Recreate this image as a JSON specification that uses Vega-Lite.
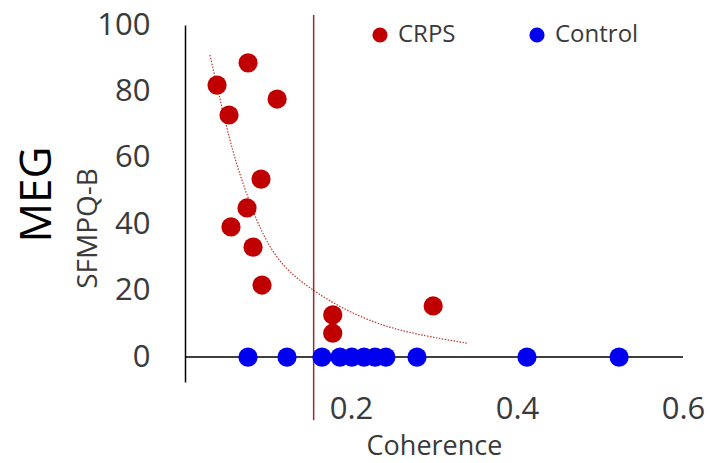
{
  "$schema": "https://vega.github.io/schema/vega-lite/v6.json",
  "width": 498,
  "height": 357,
  "autosize": "none",
  "padding": {"left": 185, "top": 25, "right": 27, "bottom": 81},
  "background": "white",
  "config": {
    "view": {"stroke": null},
    "font": "Open Sans",
    "axis": {"grid": false, "ticks": false, "labelFont": "Open Sans", "titleFont": "Open Sans", "labelColor": "#3a3a3a", "titleColor": "#3a3a3a", "titleFontWeight": "normal"}
  },
  "title": {"text": "MEG", "orient": "left", "anchor": "middle", "fontSize": 44, "font": "Open Sans", "fontWeight": "normal", "color": "#000000", "offset": 15, "dx": 9},
  "datasets": {
    "scores": [
      {"group": "CRPS", "coherence": 0.0386, "sfmpq": 81.9},
      {"group": "CRPS", "coherence": 0.076, "sfmpq": 88.6},
      {"group": "CRPS", "coherence": 0.111, "sfmpq": 77.7},
      {"group": "CRPS", "coherence": 0.053, "sfmpq": 72.9},
      {"group": "CRPS", "coherence": 0.0916, "sfmpq": 53.6},
      {"group": "CRPS", "coherence": 0.0747, "sfmpq": 44.9},
      {"group": "CRPS", "coherence": 0.0554, "sfmpq": 39.2},
      {"group": "CRPS", "coherence": 0.082, "sfmpq": 33.1},
      {"group": "CRPS", "coherence": 0.0928, "sfmpq": 21.7},
      {"group": "CRPS", "coherence": 0.178, "sfmpq": 12.7},
      {"group": "CRPS", "coherence": 0.178, "sfmpq": 7.2},
      {"group": "CRPS", "coherence": 0.299, "sfmpq": 15.4},
      {"group": "Control", "coherence": 0.0759, "sfmpq": 0},
      {"group": "Control", "coherence": 0.1229, "sfmpq": 0},
      {"group": "Control", "coherence": 0.165, "sfmpq": 0},
      {"group": "Control", "coherence": 0.1867, "sfmpq": 0},
      {"group": "Control", "coherence": 0.201, "sfmpq": 0},
      {"group": "Control", "coherence": 0.2157, "sfmpq": 0},
      {"group": "Control", "coherence": 0.229, "sfmpq": 0},
      {"group": "Control", "coherence": 0.242, "sfmpq": 0},
      {"group": "Control", "coherence": 0.2795, "sfmpq": 0},
      {"group": "Control", "coherence": 0.412, "sfmpq": 0},
      {"group": "Control", "coherence": 0.523, "sfmpq": 0}
    ],
    "trend": [
      {"coherence": 0.030, "sfmpq": 91.0},
      {"coherence": 0.0506, "sfmpq": 68.4},
      {"coherence": 0.0639, "sfmpq": 56.3},
      {"coherence": 0.0867, "sfmpq": 40.4},
      {"coherence": 0.106, "sfmpq": 31.3},
      {"coherence": 0.1265, "sfmpq": 25.3},
      {"coherence": 0.1566, "sfmpq": 19.6},
      {"coherence": 0.190, "sfmpq": 14.6},
      {"coherence": 0.231, "sfmpq": 10.0},
      {"coherence": 0.271, "sfmpq": 7.3},
      {"coherence": 0.311, "sfmpq": 5.4},
      {"coherence": 0.340, "sfmpq": 4.2}
    ],
    "baseline": [{"x0": 0, "x1": 0.6, "y": 0}],
    "cutoff": [{"x": 0.155, "y0": -19, "y1": 103}]
  },
  "layer": [
    {
      "data": {"name": "baseline"},
      "mark": {"type": "rule", "color": "#000000", "strokeWidth": 1.5},
      "encoding": {
        "x": {"field": "x0", "type": "quantitative"},
        "x2": {"field": "x1"},
        "y": {"field": "y", "type": "quantitative"}
      }
    },
    {
      "data": {"name": "cutoff"},
      "mark": {"type": "rule", "color": "#9e2a2b", "strokeWidth": 1.5, "clip": false},
      "encoding": {
        "x": {"field": "x", "type": "quantitative"},
        "y": {"field": "y0", "type": "quantitative"},
        "y2": {"field": "y1"}
      }
    },
    {
      "data": {"name": "trend"},
      "mark": {"type": "line", "color": "#c0392b", "strokeWidth": 1.2, "strokeDash": [1.5, 1.5], "interpolate": "basis"},
      "encoding": {
        "x": {"field": "coherence", "type": "quantitative"},
        "y": {"field": "sfmpq", "type": "quantitative"}
      }
    },
    {
      "data": {"name": "scores"},
      "mark": {"type": "point", "filled": true, "opacity": 1, "size": 370},
      "encoding": {
        "x": {
          "field": "coherence", "type": "quantitative",
          "scale": {"domain": [0, 0.6], "nice": false, "zero": false},
          "axis": {"values": [0.2, 0.4, 0.6], "format": ".1f", "domain": false, "labelFontSize": 31, "labelPadding": 12, "labelFlush": false, "labelOverlap": false, "title": "Coherence", "titleFontSize": 27, "titlePadding": 9}
        },
        "y": {
          "field": "sfmpq", "type": "quantitative",
          "scale": {"domain": [-7.5, 100], "nice": false, "zero": false},
          "axis": {"values": [0, 20, 40, 60, 80, 100], "domain": true, "domainColor": "#000000", "domainWidth": 1.5, "labelFontSize": 31, "labelPadding": 35, "labelOverlap": false, "labelFlush": false, "title": "SFMPQ-B", "titleFontSize": 28, "titlePadding": -6, "titleY": 203}
        },
        "color": {
          "field": "group", "type": "nominal",
          "scale": {"domain": ["CRPS", "Control"], "range": ["#c00000", "#0000ee"]},
          "legend": {"title": null, "orient": "none", "direction": "horizontal", "legendX": 183, "legendY": -2, "symbolType": "circle", "symbolSize": 230, "symbolOpacity": 1, "labelFontSize": 24, "labelFont": "Open Sans", "labelColor": "#3a3a3a", "labelOffset": 6, "columnPadding": 69}
        },
        "order": {"field": "group", "sort": "descending"}
      }
    }
  ]
}
